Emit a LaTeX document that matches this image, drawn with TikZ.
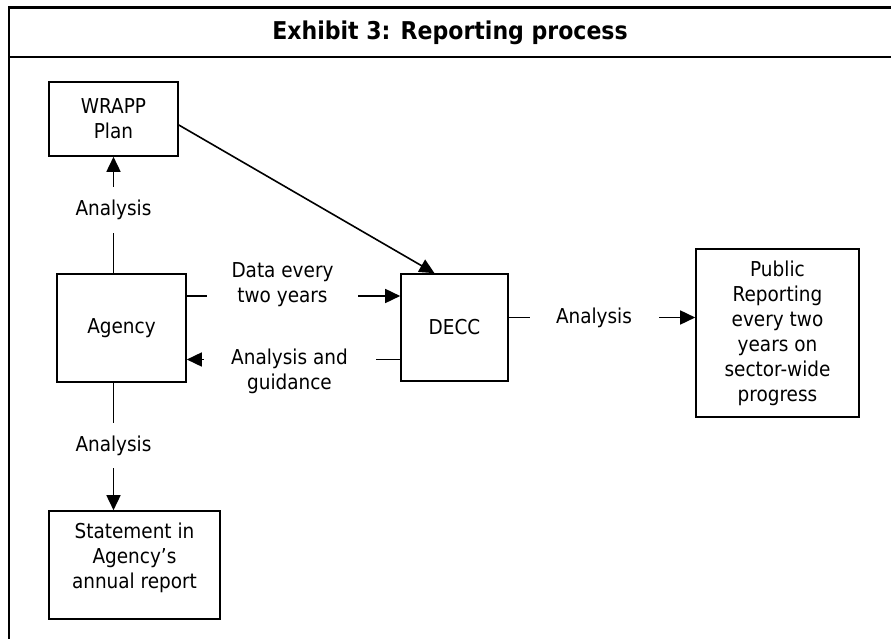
\documentclass[tikz,border=0pt]{standalone}
\usepackage{fontspec}
\setmainfont{DejaVu Sans Condensed}
\usetikzlibrary{arrows.meta}

\tikzset{
  procbox/.style={draw, line width=1.6pt, align=center, inner sep=0pt,
    font=\fontsize{20.5}{25}\selectfont},
  flow/.style={line width=1.6pt, -{Triangle[length=15pt,width=14pt]}},
  flowlabel/.style={fill=white, inner sep=0pt, align=center,
    font=\fontsize{20.5}{25}\selectfont}
}

\begin{document}
\begin{tikzpicture}[x=1pt, y=-1pt]
  \useasboundingbox (0,0) rectangle (891,639);
  % frame and title
  \draw[line width=2.2pt] (9,639) -- (9,7.5) -- (891,7.5);
  \draw[line width=2.2pt] (9,57) -- (891,57);
  \node (title) at (450,33) {\fontsize{24.5}{28}\selectfont\bfseries Exhibit 3: Reporting process};

  % boxes
  \node[procbox, minimum width=129, minimum height=74] (wrapp) at (113.5,119) {WRAPP\\Plan};
  \node[procbox, minimum width=129, minimum height=108] (agency) at (121.5,328) {Agency};
  \node[procbox, minimum width=171, minimum height=108, text depth=19pt] (statement) at (134.5,565)
    {Statement in\\Agency’s\\annual report};
  \node[procbox, minimum width=107, minimum height=107] (decc) at (454.5,327.5) {DECC};
  \node[procbox, minimum width=163, minimum height=168] (public) at (777.5,333)
    {Public\\Reporting\\every two\\years on\\sector-wide\\progress};

  % connectors
  \draw[flow] ([xshift=-8pt]agency.north) -- ([xshift=-8pt]agency.north |- wrapp.south)
    node[flowlabel, midway, yshift=5pt, minimum height=45] {Analysis};
  \draw[flow] ([xshift=-8pt]agency.south) -- ([xshift=-8pt]agency.south |- statement.north)
    node[flowlabel, midway, yshift=1pt, minimum height=45] {Analysis};
  \draw[flow] ([yshift=32pt]agency.east) -- ([yshift=32pt]agency.east -| decc.west)
    node[flowlabel, midway, xshift=-11pt, yshift=11pt, minimum width=151] {Data every\\two years};
  \draw[flow] ([yshift=-32pt]decc.west) -- ([yshift=-32pt]decc.west -| agency.east)
    node[flowlabel, midway, xshift=-4pt, yshift=-12pt, minimum width=172] {Analysis and\\guidance};
  \draw[flow] ([yshift=10pt]decc.east) -- ([yshift=10pt]decc.east -| public.west)
    node[flowlabel, midway, xshift=-8pt, minimum width=129] {Analysis};
  \draw[flow] ([yshift=-6pt]wrapp.east) -- ([xshift=-20pt]decc.north);
\end{tikzpicture}
\end{document}
